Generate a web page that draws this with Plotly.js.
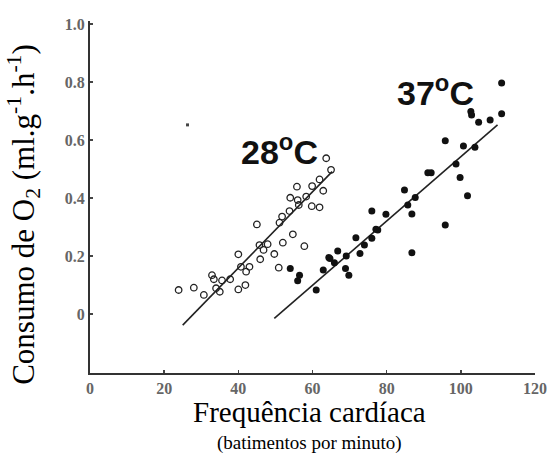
<!DOCTYPE html>
<html>
<head>
<meta charset="utf-8">
<script src="https://cdn.plot.ly/plotly-3.0.1.min.js"></script>
<style>html,body{margin:0;padding:0;background:#fff;}#chart{width:547px;height:467px;}</style>
</head>
<body>
<div id="chart"></div>
<script>
// 28 °C (open circles)
const x28 = [23.9, 28.0, 30.7, 32.9, 33.4, 34.0, 35.0, 35.6, 37.8, 40.0, 40.0, 40.7, 41.9, 42.1, 43.0, 45.0, 45.7, 45.9, 46.8, 47.9, 49.7, 50.9, 51.1, 51.8, 52.0, 53.8, 54.0, 54.7, 55.8, 56.3, 57.8, 58.3, 59.8, 59.9, 61.9, 61.9, 62.9, 63.7, 65.0, 56.0];
const y28 = [0.083, 0.091, 0.066, 0.134, 0.12, 0.089, 0.077, 0.116, 0.12, 0.206, 0.085, 0.163, 0.10, 0.146, 0.163, 0.309, 0.238, 0.189, 0.221, 0.241, 0.207, 0.16, 0.315, 0.336, 0.246, 0.355, 0.401, 0.275, 0.439, 0.376, 0.234, 0.405, 0.372, 0.441, 0.368, 0.464, 0.425, 0.537, 0.497, 0.393];
// 37 °C (filled circles)
const x37 = [54.0, 56.5, 56.0, 61.0, 62.9, 64.7, 65.9, 66.8, 68.9, 69.8, 69.1, 71.7, 72.8, 74.0, 76.0, 76.0, 77.1, 79.8, 84.8, 85.7, 86.8, 87.7, 86.8, 91.1, 92.0, 95.8, 95.8, 98.7, 99.8, 101.8, 100.7, 103.8, 102.7, 102.9, 104.8, 107.9, 111.0, 111.0, 64.4, 77.6];
const y37 = [0.157, 0.134, 0.115, 0.083, 0.152, 0.192, 0.177, 0.217, 0.157, 0.134, 0.20, 0.263, 0.209, 0.238, 0.355, 0.261, 0.292, 0.344, 0.428, 0.376, 0.345, 0.402, 0.211, 0.487, 0.487, 0.597, 0.307, 0.517, 0.471, 0.408, 0.579, 0.575, 0.698, 0.686, 0.661, 0.669, 0.69, 0.796, 0.195, 0.29];
// regression lines
const fit28x = [25.0, 65.3];
const fit28y = [-0.038, 0.491];
const fit37x = [49.7, 109.9];
const fit37y = [-0.015, 0.652];
// stray dot
const strayX = [26.3];
const strayY = [0.652];
// ticks
const xTicks = [0, 20, 40, 60, 80, 100, 120];
const yTicks = [0, 0.2, 0.4, 0.6, 0.8, 1.0];
const yTickText = ["0", "0.2", "0.4", "0.6", "0.8", "1.0"];

const traces = [
  {x: fit28x, y: fit28y, mode: 'lines', line: {color: '#222', width: 1.6}, hoverinfo: 'skip'},
  {x: fit37x, y: fit37y, mode: 'lines', line: {color: '#222', width: 1.6}, hoverinfo: 'skip'},
  {x: x28, y: y28, mode: 'markers', marker: {symbol: 'circle-open', size: 6.5, color: '#222', line: {width: 1.3, color: '#222'}}},
  {x: x37, y: y37, mode: 'markers', marker: {symbol: 'circle', size: 7, color: '#111'}},
  {x: strayX, y: strayY, mode: 'markers', marker: {symbol: 'square', size: 3, color: '#444'}}
];

const serif = 'Liberation Serif';
const layout = {
  width: 547, height: 467,
  margin: {l: 90, r: 12, t: 21, b: 94},
  showlegend: false,
  paper_bgcolor: '#fff', plot_bgcolor: '#fff',
  xaxis: {
    range: [0, 120], tickvals: xTicks, showgrid: false, zeroline: false,
    showline: true, linecolor: '#333', linewidth: 2,
    ticks: 'inside', ticklen: 3, tickwidth: 1.5, tickcolor: '#444',
    tickfont: {family: serif, size: 16, color: '#666', weight: 'bold'}
  },
  yaxis: {
    range: [-0.203, 1.01], tickvals: yTicks, ticktext: yTickText, showgrid: false, zeroline: false,
    showline: true, linecolor: '#333', linewidth: 2,
    ticks: 'inside', ticklen: 3, tickwidth: 1.5, tickcolor: '#444',
    tickfont: {family: serif, size: 16, color: '#666', weight: 'bold'}
  },
  annotations: [
    {text: 'Consumo de O<sub>2</sub> (ml.g<sup>-1</sup>.h<sup>-1</sup>)', xref: 'paper', yref: 'paper', x: -0.15, y: 0.45,
     xanchor: 'center', yanchor: 'middle', textangle: -90, showarrow: false,
     font: {family: serif, size: 31, color: '#000'}},
    {text: 'Frequência cardíaca', xref: 'paper', yref: 'paper', x: 0.494, y: -0.112,
     xanchor: 'center', yanchor: 'middle', showarrow: false,
     font: {family: serif, size: 29, color: '#000'}},
    {text: '(batimentos por minuto)', xref: 'paper', yref: 'paper', x: 0.494, y: -0.2,
     xanchor: 'center', yanchor: 'middle', showarrow: false,
     font: {family: serif, size: 19, color: '#000'}},
    {text: '28<sup>o</sup>C', xref: 'x', yref: 'y', x: 51.1, y: 0.566,
     xanchor: 'center', yanchor: 'middle', showarrow: false,
     font: {family: 'Liberation Sans', size: 34, color: '#111', weight: 'bold'}},
    {text: '37<sup>o</sup>C', xref: 'x', yref: 'y', x: 93.1, y: 0.769,
     xanchor: 'center', yanchor: 'middle', showarrow: false,
     font: {family: 'Liberation Sans', size: 34, color: '#111', weight: 'bold'}}
  ]
};

Plotly.newPlot('chart', traces, layout, {displayModeBar: false, staticPlot: true});
</script>
</body>
</html>
